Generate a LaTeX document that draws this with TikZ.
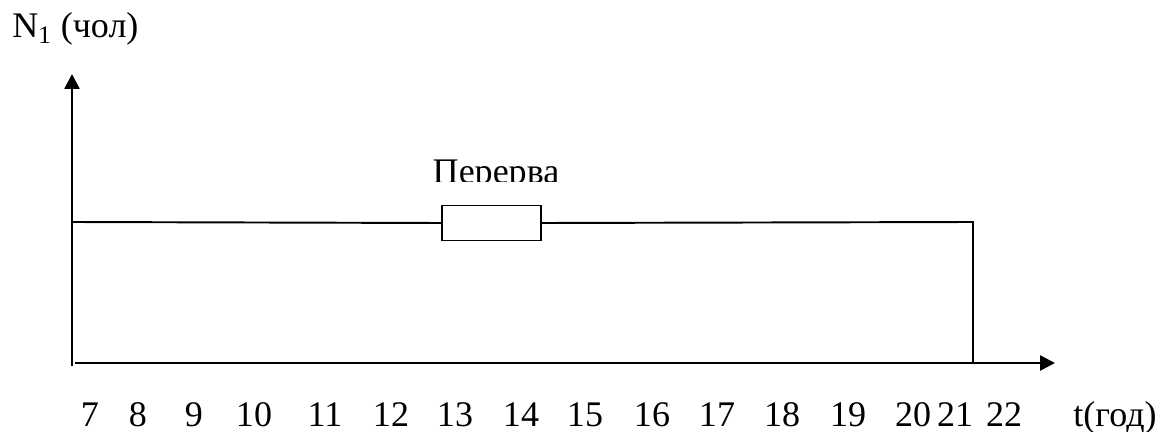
\documentclass[tikz,border=0pt]{standalone}
\usepackage{fontspec}
\setmainfont{Liberation Serif}
\newfontfamily\lblfont{Liberation Serif}
\usetikzlibrary{arrows.meta}

\tikzset{
    axis/.style={line width=1.5pt, -{Triangle[length=0.3cm,width=0.3cm]}},
    workline/.style={line width=1.1pt},
    breakbox/.style={draw, line width=1.1pt, minimum width=1.98cm, minimum height=0.7cm, inner sep=0pt},
    lbl/.style={inner sep=0pt, font=\lblfont\fontsize{20.5}{24}\selectfont}
}

\begin{document}
\begin{tikzpicture}[x=0.02cm, y=-0.02cm]
    % picture frame
    \useasboundingbox (0,0) rectangle (1173,432);

    % axes
    \coordinate (O) at (72,366);
    \coordinate (ytop) at (72,74);
    \coordinate (xstart) at (75,363);
    \coordinate (xend) at (1055,363);
    \draw[axis] (O) -- (ytop);
    \draw[axis] (xstart) -- (xend);

    \node[lbl, anchor=base west] (ylab) at (12,38) {N\textsubscript{1} (чол)};
    \node[lbl, anchor=base] (xlab) at (1115,426) {t(год)};

    % hour labels
    \foreach \h/\px in {7/90, 8/138, 9/194, 10/254, 11/325, 12/391, 13/455, 14/521,
                        15/585, 16/652, 17/717, 18/782, 19/848, 20/913, 21/955, 22/1004}
        \node[lbl, anchor=base] (h\h) at (\px,426) {\h};

    % working time with the break
    \coordinate (wstart) at (72,222);
    \coordinate (wend) at (973,222);
    \coordinate (wdown) at (973,363);
    \node[breakbox] (brk) at (491.5,223) {};
    \draw[workline] (wstart) -- (brk.west);
    \draw[workline] (brk.east) -- (wend) -- (wdown);

    % break label (cut at the bottom)
    \begin{scope}
        \clip (400,140) rectangle (600,182);
        \node[lbl, anchor=base] (brklab) at (496,184) {Перерва};
    \end{scope}
\end{tikzpicture}
\end{document}
